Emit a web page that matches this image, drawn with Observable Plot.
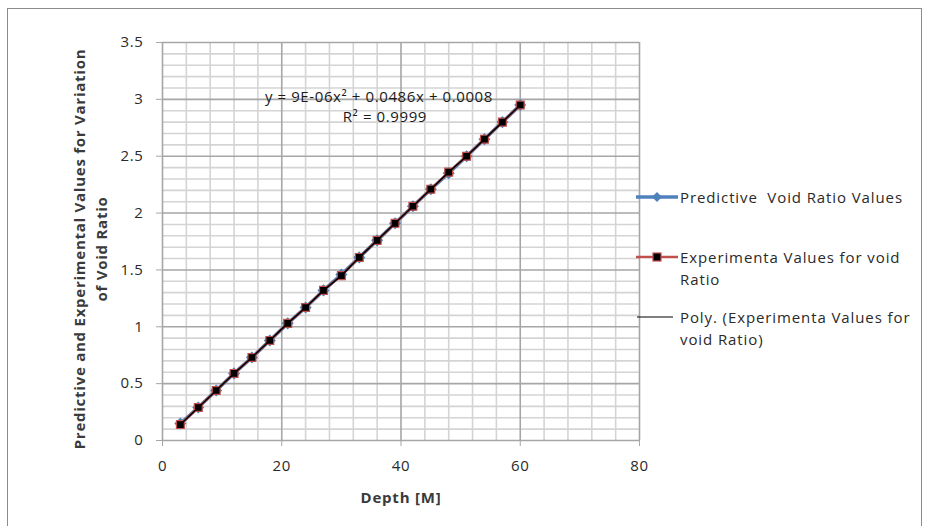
<!DOCTYPE html>
<html><head><meta charset="utf-8">
<script src="https://cdn.jsdelivr.net/npm/d3@7"></script>
<script src="https://cdn.jsdelivr.net/npm/@observablehq/plot@0.6"></script>
<style>
body{margin:0;background:#fff;font-family:"Open Sans",sans-serif;}
#wrap{position:relative;width:927px;height:526px;overflow:hidden;}
#frame{position:absolute;left:7px;top:8px;width:915px;height:540px;border:1px solid #8c8c8c;box-sizing:border-box;}
#chart{position:absolute;left:0;top:0;}
.ylab{position:absolute;font-weight:bold;font-size:15px;letter-spacing:0.75px;color:#3a3a3a;white-space:nowrap;transform:translate(-50%,-50%) rotate(-90deg);}
#xlab{position:absolute;left:401px;top:497px;transform:translate(-50%,-50%);font-weight:bold;font-size:15px;letter-spacing:0.8px;color:#3a3a3a;white-space:nowrap;}
.leg{position:absolute;font-size:15px;letter-spacing:0.9px;color:#2a2a2a;line-height:22px;white-space:pre-wrap;}
</style></head>
<body>
<div id="wrap">
<div id="frame"></div>
<div id="chart"></div>
<div class="ylab" style="left:79px;top:249px;">Predictive and Experimental Values for Variation</div>
<div class="ylab" style="left:101px;top:249px;">of Void Ratio</div>
<div id="xlab">Depth [M]</div>
<div id="legend"></div>
</div>
<script>
const depth = [3,6,9,12,15,18,21,24,27,30,33,36,39,42,45,48,51,54,57,60];
const predictive = [0.15,0.29,0.44,0.59,0.73,0.88,1.03,1.17,1.32,1.46,1.61,1.76,1.91,2.06,2.21,2.35,2.50,2.65,2.80,2.95];
const experimental = [0.14,0.29,0.44,0.59,0.73,0.88,1.03,1.17,1.32,1.45,1.61,1.76,1.91,2.06,2.21,2.36,2.50,2.65,2.80,2.95];
const xTicks = [0,20,40,60,80];
const yTicks = [0,0.5,1,1.5,2,2.5,3,3.5];
const xMinor = [0,4,8,12,16,20,24,28,32,36,40,44,48,52,56,60,64,68,72,76,80];
const yMinor = d3.range(0,36).map(i => i/10);
const seriesNames = ["Predictive  Void Ratio Values","Experimenta Values for void Ratio","Poly. (Experimenta Values for void Ratio)"];
const eqText = "y = 9E-06x² + 0.0486x + 0.0008";
const r2Text = "R² = 0.9999";

const pred = depth.map((d,i)=>({x:d,y:predictive[i]}));
const exp = depth.map((d,i)=>({x:d,y:experimental[i]}));

const chart = Plot.plot({
  width: 927, height: 526,
  marginLeft: 162, marginRight: 288, marginTop: 42, marginBottom: 86,
  style: {fontFamily: '"Open Sans", sans-serif', fontSize: "15px", color: "#2a2a2a", background: "transparent", letterSpacing: "0.6px"},
  x: {domain: [0,80]},
  y: {domain: [0,3.5]},
  marks: [
    Plot.ruleX(xMinor.filter(v => v%20 !== 0), {stroke: "#d4d4d4", strokeWidth: 1.6, strokeOpacity: 1}),
    Plot.ruleY(yMinor.filter(v => Math.abs(v*2 - Math.round(v*2)) > 1e-6), {stroke: "#d4d4d4", strokeWidth: 1.6, strokeOpacity: 1}),
    Plot.ruleX(xTicks, {stroke: "#a6a6a6", strokeWidth: 1.6, strokeOpacity: 1}),
    Plot.ruleY(yTicks, {stroke: "#a6a6a6", strokeWidth: 1.6, strokeOpacity: 1}),
    Plot.axisX({ticks: xTicks, tickSize: 6, tickPadding: 14, label: null, stroke: "#a6a6a6", fill: "#2a2a2a", tickFormat: d => String(d)}),
    Plot.axisY({ticks: yTicks, tickSize: 6, tickPadding: 13, label: null, stroke: "#a6a6a6", fill: "#2a2a2a", tickFormat: d => String(d)}),
    Plot.line(pred, {x: "x", y: "y", stroke: "#4f81bd", strokeWidth: 3.5}),
    Plot.dot(pred, {x: "x", y: "y", symbol: "diamond2", r: 4.5, fill: "#4f81bd", stroke: "#4f81bd"}),
    Plot.line(exp, {x: "x", y: "y", stroke: "#c0504d", strokeWidth: 2.5}),
    Plot.dot(exp, {x: "x", y: "y", symbol: "square2", r: 5, fill: "#000", stroke: "#c0504d", strokeWidth: 1.2}),
    Plot.line(exp, {x: "x", y: "y", stroke: "#000", strokeWidth: 1.5}),
    Plot.text([eqText], {x: 36.3, y: 3.02, text: d => d, fontSize: 15, fill: "#1a1a1a", letterSpacing: "0.9px"}),
    Plot.text([r2Text], {x: 37.3, y: 2.845, text: d => d, fontSize: 15, fill: "#1a1a1a", letterSpacing: "0.9px"})
  ]
});
document.getElementById("chart").appendChild(chart);

const leg = document.getElementById("legend");
leg.innerHTML = `
<svg style="position:absolute;left:0;top:0" width="927" height="526">
  <line x1="636" x2="678" y1="197" y2="197" stroke="#4f81bd" stroke-width="3.5"/>
  <path d="M657,192 L662,197 L657,202 L652,197 Z" fill="#4f81bd"/>
  <line x1="636" x2="678" y1="257" y2="257" stroke="#c0504d" stroke-width="2.5"/>
  <rect x="653" y="253" width="8" height="8" fill="#000" stroke="#c0504d" stroke-width="1.2"/>
  <line x1="637" x2="673" y1="317" y2="317" stroke="#000" stroke-width="1.2"/>
</svg>
<div class="leg" style="left:680px;top:186px;width:240px;">${seriesNames[0]}</div>
<div class="leg" style="left:680px;top:246px;width:238px;">${seriesNames[1]}</div>
<div class="leg" style="left:680px;top:306px;width:238px;">${seriesNames[2]}</div>`;
</script>
</body></html>
